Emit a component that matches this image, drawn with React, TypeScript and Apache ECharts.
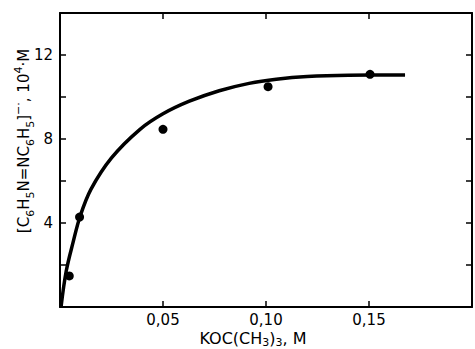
import React, { useEffect, useRef } from "react";
import * as echarts from "echarts";

const measuredX = [0.0045, 0.0095, 0.05, 0.101, 0.1505];
const measuredY = [1.48, 4.28, 8.46, 10.49, 11.08];

const curveX = [0.0005, 0.003, 0.0064, 0.0097, 0.015, 0.025, 0.0387, 0.05, 0.0628, 0.0773, 0.0918, 0.105, 0.12, 0.14, 0.1675];
const curveY = [0, 1.7, 3.1, 4.3, 5.6, 7.1, 8.45, 9.2, 9.8, 10.3, 10.65, 10.85, 10.98, 11.04, 11.05];

const xTickLabels = ["0,05", "0,10", "0,15"];
const yTickLabels = ["4", "8", "12"];

const FONT = "DejaVu Sans";

export default function App() {
  const ref = useRef<HTMLDivElement>(null);
  useEffect(() => {
    if (!ref.current) return;
    const chart = echarts.init(ref.current, undefined, { renderer: "svg" });
    const axisLine = { show: true, onZero: false, lineStyle: { color: "#000", width: 2 } };
    const tick = { show: true, inside: true, length: 6, lineStyle: { color: "#000", width: 1.5 } };
    const fmtX = (v: number) => {
      const s = v.toFixed(2).replace(".", ",");
      return xTickLabels.includes(s) ? s : "";
    };
    const fmtY = (v: number) => (yTickLabels.includes(String(v)) ? String(v) : "");
    chart.setOption({
      animation: false,
      backgroundColor: "#fff",
      grid: { left: 60, top: 13, right: 1, bottom: 42 },
      xAxis: [
        {
          type: "value", min: 0, max: 0.2, interval: 0.05, position: "bottom",
          axisLine, axisTick: tick, splitLine: { show: false },
          axisLabel: { formatter: fmtX, color: "#000", fontFamily: FONT, fontSize: 15, margin: 5, lineHeight: 16 },
        },
        {
          type: "value", min: 0, max: 0.2, interval: 0.05, position: "top",
          axisLine, axisTick: tick, splitLine: { show: false }, axisLabel: { show: false },
        },
      ],
      yAxis: [
        {
          type: "value", min: 0, max: 14, interval: 2, position: "left",
          axisLine, axisTick: tick, splitLine: { show: false },
          axisLabel: { formatter: fmtY, color: "#000", fontFamily: FONT, fontSize: 15, margin: 7 },
        },
        {
          type: "value", min: 0, max: 14, interval: 2, position: "right",
          axisLine, axisTick: tick, splitLine: { show: false }, axisLabel: { show: false },
        },
      ],
      series: [
        {
          type: "line",
          data: curveX.map((x, i) => [x, curveY[i]]),
          smooth: 0.35,
          showSymbol: false,
          lineStyle: { color: "#000", width: 3.5 },
          z: 3,
        },
        {
          type: "scatter",
          data: measuredX.map((x, i) => [x, measuredY[i]]),
          symbolSize: 9,
          itemStyle: { color: "#000", opacity: 1 },
          z: 4,
        },
      ],
      graphic: [
        {
          type: "text",
          x: 24,
          y: 141,
          rotation: Math.PI / 2,
          style: {
            text: "[C{sub|6}H{sub|5}N=NC{sub|6}H{sub|5}]{sup|−·}, 10{sup|4}·M",
            fontFamily: FONT,
            fontSize: 15,
            fill: "#000",
            align: "center",
            verticalAlign: "middle",
            lineHeight: 23,
            rich: {
              sub: { fontSize: 11, fontFamily: FONT, fill: "#000", verticalAlign: "bottom", lineHeight: 11 },
              sup: { fontSize: 11, fontFamily: FONT, fill: "#000", verticalAlign: "top", lineHeight: 11 },
            },
          },
        },
        {
          type: "text",
          x: 253,
          y: 338,
          style: {
            text: "KOC(CH{sub|3}){sub|3}, M",
            fontFamily: FONT,
            fontSize: 16,
            fill: "#000",
            align: "center",
            verticalAlign: "middle",
            lineHeight: 20,
            rich: {
              sub: { fontSize: 11, fontFamily: FONT, fill: "#000", verticalAlign: "bottom", lineHeight: 11 },
            },
          },
        },
      ],
    });
    return () => chart.dispose();
  }, []);
  return <div ref={ref} style={{ width: 475, height: 349, position: "absolute", left: 0, top: 0 }} />;
}
